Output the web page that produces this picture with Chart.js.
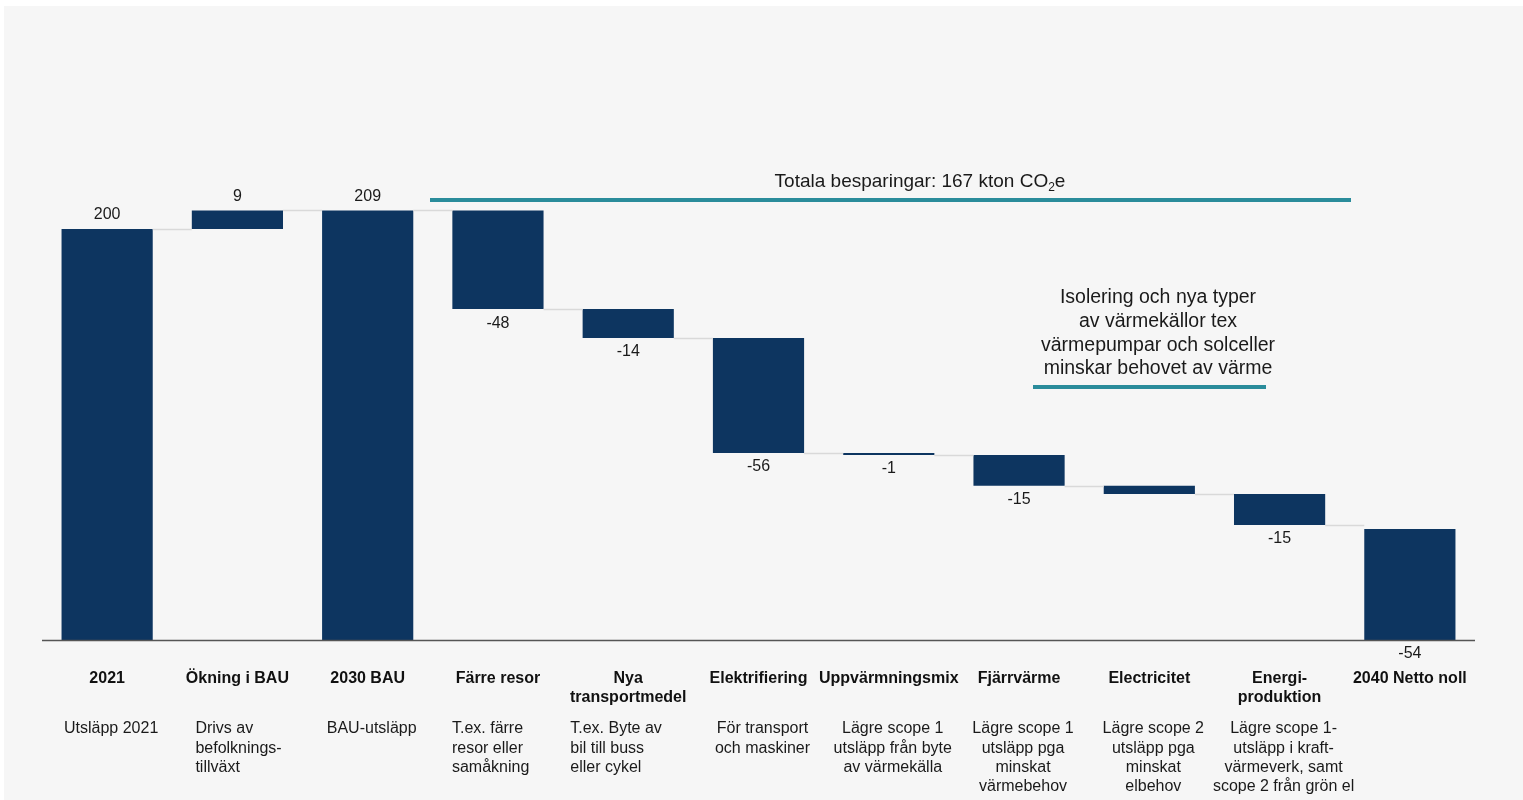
<!DOCTYPE html>
<html>
<head>
<meta charset="utf-8">
<script src="https://cdn.jsdelivr.net/npm/chart.js@4.4.1/dist/chart.umd.min.js"></script>
<style>
  html, body { margin: 0; background: #fff; }
  canvas { display: block; }
</style>
</head>
<body>
<canvas id="waterfallChart" width="1523" height="800"></canvas>
<script>
// Data (kton CO2e)
const categories = [
  ["2021"],
  ["Ökning i BAU"],
  ["2030 BAU"],
  ["Färre resor"],
  ["Nya", "transportmedel"],
  ["Elektrifiering"],
  ["Uppvärmningsmix"],
  ["Fjärrvärme"],
  ["Electricitet"],
  ["Energi-", "produktion"],
  ["2040 Netto noll"],
];
const descriptions = [
  ["Utsläpp 2021"],
  ["Drivs av", "befolknings-", "tillväxt"],
  ["BAU-utsläpp"],
  ["T.ex. färre", "resor eller", "samåkning"],
  ["T.ex. Byte av", "bil till buss", "eller cykel"],
  ["För transport", "och maskiner"],
  ["Lägre scope 1", "utsläpp från byte", "av värmekälla"],
  ["Lägre scope 1", "utsläpp pga", "minskat", "värmebehov"],
  ["Lägre scope 2", "utsläpp pga", "minskat", "elbehov"],
  ["Lägre scope 1-", "utsläpp i kraft-", "värmeverk, samt", "scope 2 från grön el"],
  [],
];
const values = [200, 9, 209, -48, -14, -56, -1, -15, -4, -15, 54];
const isTotal = [true, false, true, false, false, false, false, false, false, false, true];
const valueLabels = ["200", "9", "209", "-48", "-14", "-56", "-1", "-15", "", "-15", "-54"];
const annotationLines = [
  "Isolering och nya typer",
  "av värmekällor tex",
  "värmepumpar och solceller",
  "minskar behovet av värme",
];

// floating bars + running levels
const bars = [];
const levels = [];
let level = 0;
values.forEach((v, i) => {
  if (isTotal[i]) {
    bars.push([0, v]);
    level = v;
  } else {
    bars.push([level, level + v]);
    level += v;
  }
  levels.push(level);
});

// description layout: left aligned ones get an offset from the bar centre
const descOffset = [null, -42, null, -46, -58, null, null, null, null, null, null];

const FONT = "'Liberation Sans', Arial, sans-serif";
const NAVY = "#0d3560";
const TEAL = "#2a8c9b";

const decorPlugin = {
  id: "decor",
  beforeDraw(chart) {
    const ctx = chart.ctx;
    ctx.save();
    ctx.fillStyle = "#f6f6f6";
    ctx.fillRect(4, 6, chart.width - 4, chart.height - 6);
    ctx.restore();
  },
  afterDatasetsDraw(chart) {
    const ctx = chart.ctx;
    const meta = chart.getDatasetMeta(0);
    const yScale = chart.scales.y;
    const area = chart.chartArea;
    ctx.save();

    // connectors
    ctx.strokeStyle = "#d9d9d9";
    ctx.lineWidth = 1.5;
    for (let i = 0; i < meta.data.length - 1; i++) {
      const a = meta.data[i];
      const b = meta.data[i + 1];
      const y = Math.round(yScale.getPixelForValue(levels[i])) + 0.5;
      ctx.beginPath();
      ctx.moveTo(a.x + a.width / 2, y);
      ctx.lineTo(b.x - b.width / 2, y);
      ctx.stroke();
    }

    // axis line
    ctx.strokeStyle = "#555";
    ctx.lineWidth = 1.5;
    ctx.beginPath();
    ctx.moveTo(area.left, area.bottom + 0.5);
    ctx.lineTo(area.right, area.bottom + 0.5);
    ctx.stroke();

    // value labels
    ctx.fillStyle = "#1a1a1a";
    ctx.font = "16px " + FONT;
    ctx.textAlign = "center";
    ctx.textBaseline = "middle";
    meta.data.forEach((bar, i) => {
      const txt = valueLabels[i];
      if (!txt) return;
      const top = Math.min(bar.y, bar.base);
      const bottom = Math.max(bar.y, bar.base);
      if (txt.startsWith("-")) {
        ctx.fillText(txt, bar.x, bottom + 14);
      } else {
        ctx.fillText(txt, bar.x, top - 14);
      }
    });

    // category names
    ctx.fillStyle = "#111";
    ctx.font = "bold 16px " + FONT;
    meta.data.forEach((bar, i) => {
      categories[i].forEach((line, j) => {
        ctx.fillText(line, bar.x, 679 + j * 19);
      });
    });

    // descriptions
    ctx.fillStyle = "#1a1a1a";
    ctx.font = "16px " + FONT;
    meta.data.forEach((bar, i) => {
      const off = descOffset[i];
      ctx.textAlign = off === null ? "center" : "left";
      const x = off === null ? bar.x + 4 : bar.x + off;
      descriptions[i].forEach((line, j) => {
        ctx.fillText(line, x, 729 + j * 19.3);
      });
    });

    // total savings banner
    ctx.fillStyle = TEAL;
    ctx.fillRect(430, 198, 921, 4);
    ctx.fillStyle = "#1a1a1a";
    ctx.textAlign = "left";
    ctx.font = "19px " + FONT;
    const part1 = "Totala besparingar: 167 kton CO";
    const w1 = ctx.measureText(part1).width;
    ctx.font = "12px " + FONT;
    const w2 = ctx.measureText("2").width;
    ctx.font = "19px " + FONT;
    const w3 = ctx.measureText("e").width;
    let x0 = 920 - (w1 + w2 + w3) / 2;
    ctx.fillText(part1, x0, 182);
    ctx.font = "12px " + FONT;
    ctx.fillText("2", x0 + w1, 188);
    ctx.font = "19px " + FONT;
    ctx.fillText("e", x0 + w1 + w2, 182);

    // heating annotation
    ctx.textAlign = "center";
    ctx.font = "19.5px " + FONT;
    annotationLines.forEach((line, j) => {
      ctx.fillText(line, 1158, 298 + j * 23.6);
    });
    ctx.fillStyle = TEAL;
    ctx.fillRect(1033, 385, 233, 4);

    ctx.restore();
  },
};

const ctx = document.getElementById("waterfallChart").getContext("2d");
const waterfallChart = new Chart(ctx, {
  type: "bar",
  data: {
    labels: categories.map((c) => c.join(" ")),
    datasets: [
      {
        data: bars,
        backgroundColor: NAVY,
        borderWidth: 0,
        barPercentage: 0.7,
        categoryPercentage: 1,
      },
    ],
  },
  options: {
    responsive: false,
    animation: false,
    layout: {
      padding: { left: 42, right: 48, top: 44, bottom: 160 },
    },
    scales: {
      x: { display: false },
      y: { display: false, min: 0, max: 290 },
    },
    plugins: {
      legend: { display: false },
      tooltip: { enabled: false },
    },
  },
  plugins: [decorPlugin],
});
</script>
</body>
</html>
